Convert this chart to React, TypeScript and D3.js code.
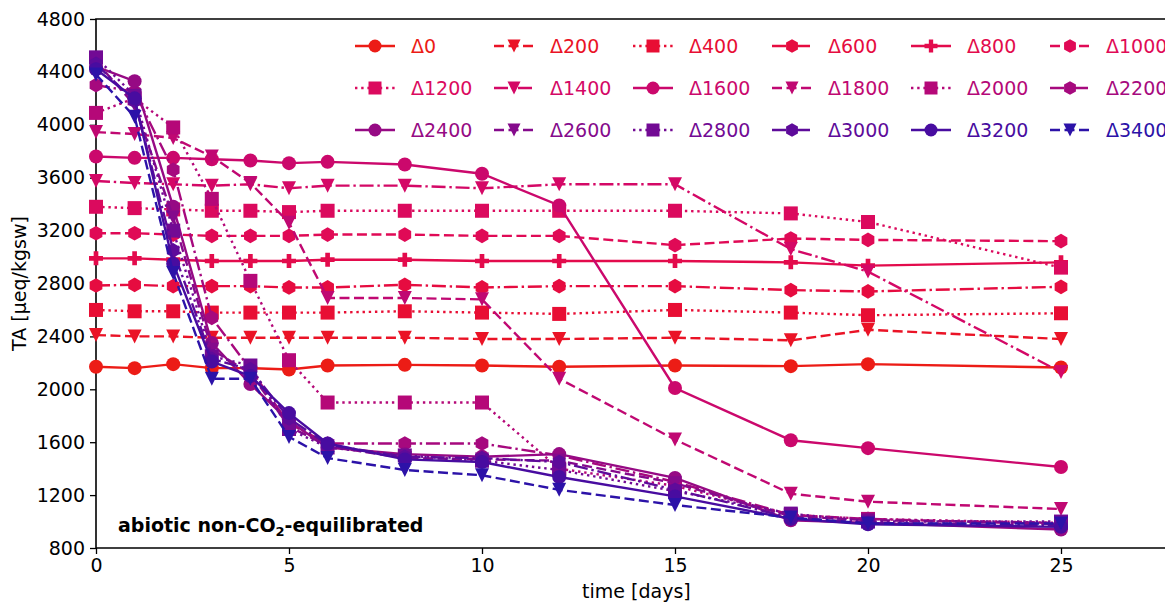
import React, { useEffect, useRef } from "react";
import * as d3 from "d3";

// sampling days
const times = [0, 1, 2, 3, 4, 5, 6, 8, 10, 12, 15, 18, 20, 25];

const labels = [
  "Δ0", "Δ200", "Δ400", "Δ600", "Δ800", "Δ1000",
  "Δ1200", "Δ1400", "Δ1600", "Δ1800", "Δ2000", "Δ2200",
  "Δ2400", "Δ2600", "Δ2800", "Δ3000", "Δ3200", "Δ3400",
];

// TA values (µeq/kgsw)
const d0 = [2170, 2160, 2190, 2160, 2160, 2150, 2180, 2185, 2180, 2170, 2180, 2175, 2190, 2165];
const d200 = [2410, 2400, 2400, 2390, 2390, 2390, 2390, 2390, 2380, 2380, 2390, 2370, 2450, 2380];
const d400 = [2600, 2590, 2590, 2580, 2580, 2580, 2580, 2590, 2580, 2570, 2600, 2580, 2560, 2575];
const d600 = [2785, 2790, 2780, 2780, 2780, 2770, 2770, 2790, 2770, 2780, 2780, 2750, 2740, 2775];
const d800 = [2990, 2990, 2980, 2970, 2970, 2970, 2980, 2980, 2970, 2970, 2970, 2960, 2935, 2960];
const d1000 = [3180, 3180, 3170, 3160, 3160, 3160, 3170, 3170, 3160, 3160, 3090, 3140, 3130, 3120];
const d1200 = [3380, 3370, 3360, 3350, 3350, 3340, 3350, 3350, 3350, 3350, 3350, 3330, 3265, 2920];
const d1400 = [3575, 3560, 3550, 3540, 3550, 3520, 3540, 3540, 3520, 3550, 3550, 3060, 2890, 2130];
const d1600 = [3760, 3750, 3750, 3740, 3730, 3710, 3720, 3700, 3630, 3390, 2010, 1615, 1555, 1412];
const d1800 = [3945, 3930, 3900, 3760, 3560, 3260, 2690, 2690, 2680, 2080, 1620, 1210, 1150, 1095];
const d2000 = [4090, 4200, 3980, 3440, 2820, 2220, 1900, 1900, 1900, 1400, 1270, 1050, 1020, 990];
const d2200 = [4300, 4250, 3660, 2540, 2150, 1740, 1590, 1590, 1590, 1500, 1300, 1050, 1020, 980];
const d2400 = [4440, 4330, 3380, 2350, 2040, 1760, 1560, 1510, 1490, 1510, 1330, 1010, 990, 940];
const d2600 = [4480, 4150, 3300, 2300, 2120, 1720, 1570, 1480, 1470, 1460, 1290, 1040, 1010, 990];
const d2800 = [4510, 4220, 3200, 2250, 2180, 1700, 1560, 1500, 1460, 1390, 1230, 1060, 1000, 1000];
const d3000 = [4460, 4180, 3050, 2230, 2150, 1780, 1580, 1490, 1480, 1450, 1240, 1030, 990, 970];
const d3200 = [4420, 4200, 2950, 2210, 2100, 1820, 1590, 1470, 1450, 1337, 1190, 1020, 980, 960];
const d3400 = [4380, 4060, 2880, 2080, 2080, 1640, 1480, 1390, 1350, 1240, 1125, 1030, 985, 985];

const seriesValues = [
  d0, d200, d400, d600, d800, d1000, d1200, d1400, d1600,
  d1800, d2000, d2200, d2400, d2600, d2800, d3000, d3200, d3400,
];

const yTicks = [800, 1200, 1600, 2000, 2400, 2800, 3200, 3600, 4000, 4400, 4800];
const xTicks = [0, 5, 10, 15, 20, 25];

// styles
const colors = [
  "#ec1c16", "#ea1326", "#e80e34", "#e60c40", "#e30b4c", "#e00a56",
  "#db0a5e", "#d40866", "#cb086c", "#c00872", "#b50878", "#a6097e",
  "#960a84", "#850a8c", "#720a94", "#5e0b9a", "#480ca0", "#2c12a8",
];
const markers = ["o", "v", "s", "h", "P", "h", "s", "v", "o", "v", "s", "h", "o", "v", "s", "h", "o", "v"];
const lineStyles = ["solid", "dashed", "dotted", "dashdot"];
const dashes: Record<string, string | null> = {
  solid: null,
  dashed: "10,4.5",
  dotted: "2.4,3.8",
  dashdot: "14,3.8,2.4,3.8",
};
const LW = 2.4;

const FONT = "DejaVu Sans, sans-serif";

function markerPath(m: string, ms: number): string {
  const h = ms / 2;
  if (m === "o") return d3.symbol(d3.symbolCircle, Math.PI * h * h)() as string;
  if (m === "v") return `M${-h},${-h}L${h},${-h}L0,${h}Z`;
  if (m === "s") return `M${-h},${-h}H${h}V${h}H${-h}Z`;
  if (m === "h") {
    const pts = d3.range(6).map((i) => {
      const a = (Math.PI / 3) * i - Math.PI / 2;
      return [Math.cos(a) * h * 1.05, Math.sin(a) * h * 1.05];
    });
    return "M" + pts.map((p) => p.join(",")).join("L") + "Z";
  }
  // filled plus
  const t = h / 3;
  return `M${-t},${-h}H${t}V${-t}H${h}V${t}H${t}V${h}H${-t}V${t}H${-h}V${-t}H${-t}Z`;
}

const App = () => {
  const ref = useRef<SVGSVGElement | null>(null);

  useEffect(() => {
    const svg = d3.select(ref.current);
    svg.selectAll("*").remove();

    const dims = { width: 1165, height: 604, left: 96, top: 19, bottom: 548 };
    const xScale = d3.scaleLinear().domain([0, 25]).range([96, 1061]);
    const yScale = d3.scaleLinear().domain([800, 4800]).range([dims.bottom, dims.top]);
    const xEnd = xScale(28);

    // axes
    const yAxis = svg
      .append("g")
      .attr("transform", `translate(${dims.left},0)`)
      .call(d3.axisLeft(yScale).tickValues(yTicks).tickSize(6).tickPadding(5).tickFormat(d3.format("d")));
    const xAxis = svg
      .append("g")
      .attr("transform", `translate(0,${dims.bottom})`)
      .call(d3.axisBottom(xScale).tickValues(xTicks).tickSize(6).tickPadding(5).tickFormat(d3.format("d")));
    [yAxis, xAxis].forEach((a) => {
      a.select(".domain").remove();
      a.selectAll("line").attr("stroke", "#000").attr("stroke-width", 1.3);
      a.selectAll("text").attr("font-family", FONT).attr("font-size", 19).attr("fill", "#000");
    });

    // spines
    svg.append("path")
      .attr("d", `M${xEnd},${dims.top}H${dims.left}V${dims.bottom}H${xEnd}`)
      .attr("fill", "none")
      .attr("stroke", "#000")
      .attr("stroke-width", 1.6);

    // labels
    svg.append("text")
      .attr("x", (dims.left + xEnd) / 2)
      .attr("y", 598)
      .attr("text-anchor", "middle")
      .attr("font-family", FONT)
      .attr("font-size", 19)
      .text("time [days]");

    svg.append("text")
      .attr("transform", `translate(26,${(dims.top + dims.bottom) / 2}) rotate(-90)`)
      .attr("text-anchor", "middle")
      .attr("font-family", FONT)
      .attr("font-size", 19)
      .text("TA [µeq/kgsw]");

    const note = svg.append("text")
      .attr("x", 118)
      .attr("y", 532)
      .attr("font-family", FONT)
      .attr("font-size", 19)
      .attr("font-weight", "bold");
    note.append("tspan").text("abiotic non-CO");
    note.append("tspan").attr("font-size", 13).attr("dy", 4).text("2");
    note.append("tspan").attr("dy", -4).text("-equilibrated");

    // series
    const lineGenerator = d3
      .line<number>()
      .x((d, i) => xScale(times[i]))
      .y((d) => yScale(d));

    seriesValues.forEach((vals, k) => {
      const style = lineStyles[k % 4];
      const g = svg.append("g");
      g.append("path")
        .attr("d", lineGenerator(vals))
        .attr("fill", "none")
        .attr("stroke", colors[k])
        .attr("stroke-width", LW)
        .attr("stroke-dasharray", dashes[style]);
      g.selectAll("path.mk")
        .data(vals)
        .join("path")
        .attr("class", "mk")
        .attr("d", markerPath(markers[k], 14))
        .attr("transform", (d, i) => `translate(${xScale(times[i])},${yScale(d)})`)
        .attr("fill", colors[k]);
    });

    // legend, 6 columns x 3 rows (right column runs off the edge, as in the figure)
    const legend = svg.append("g");
    labels.forEach((lab, k) => {
      const col = k % 6;
      const row = Math.floor(k / 6);
      const x0 = 355 + col * 139;
      const y0 = 46 + row * 42;
      const style = lineStyles[k % 4];
      legend.append("line")
        .attr("x1", x0).attr("x2", x0 + 40)
        .attr("y1", y0).attr("y2", y0)
        .attr("stroke", colors[k])
        .attr("stroke-width", LW)
        .attr("stroke-dasharray", dashes[style]);
      legend.append("path")
        .attr("d", markerPath(markers[k], 13))
        .attr("transform", `translate(${x0 + 20},${y0})`)
        .attr("fill", colors[k]);
      legend.append("text")
        .attr("x", x0 + 56)
        .attr("y", y0 + 7)
        .attr("font-family", FONT)
        .attr("font-size", 19)
        .attr("fill", colors[k])
        .text(lab);
    });
  }, []);

  return (
    <svg
      ref={ref}
      width={1165}
      height={604}
      style={{ position: "absolute", left: 0, top: 0, background: "#fff" }}
    />
  );
};

export default App;
